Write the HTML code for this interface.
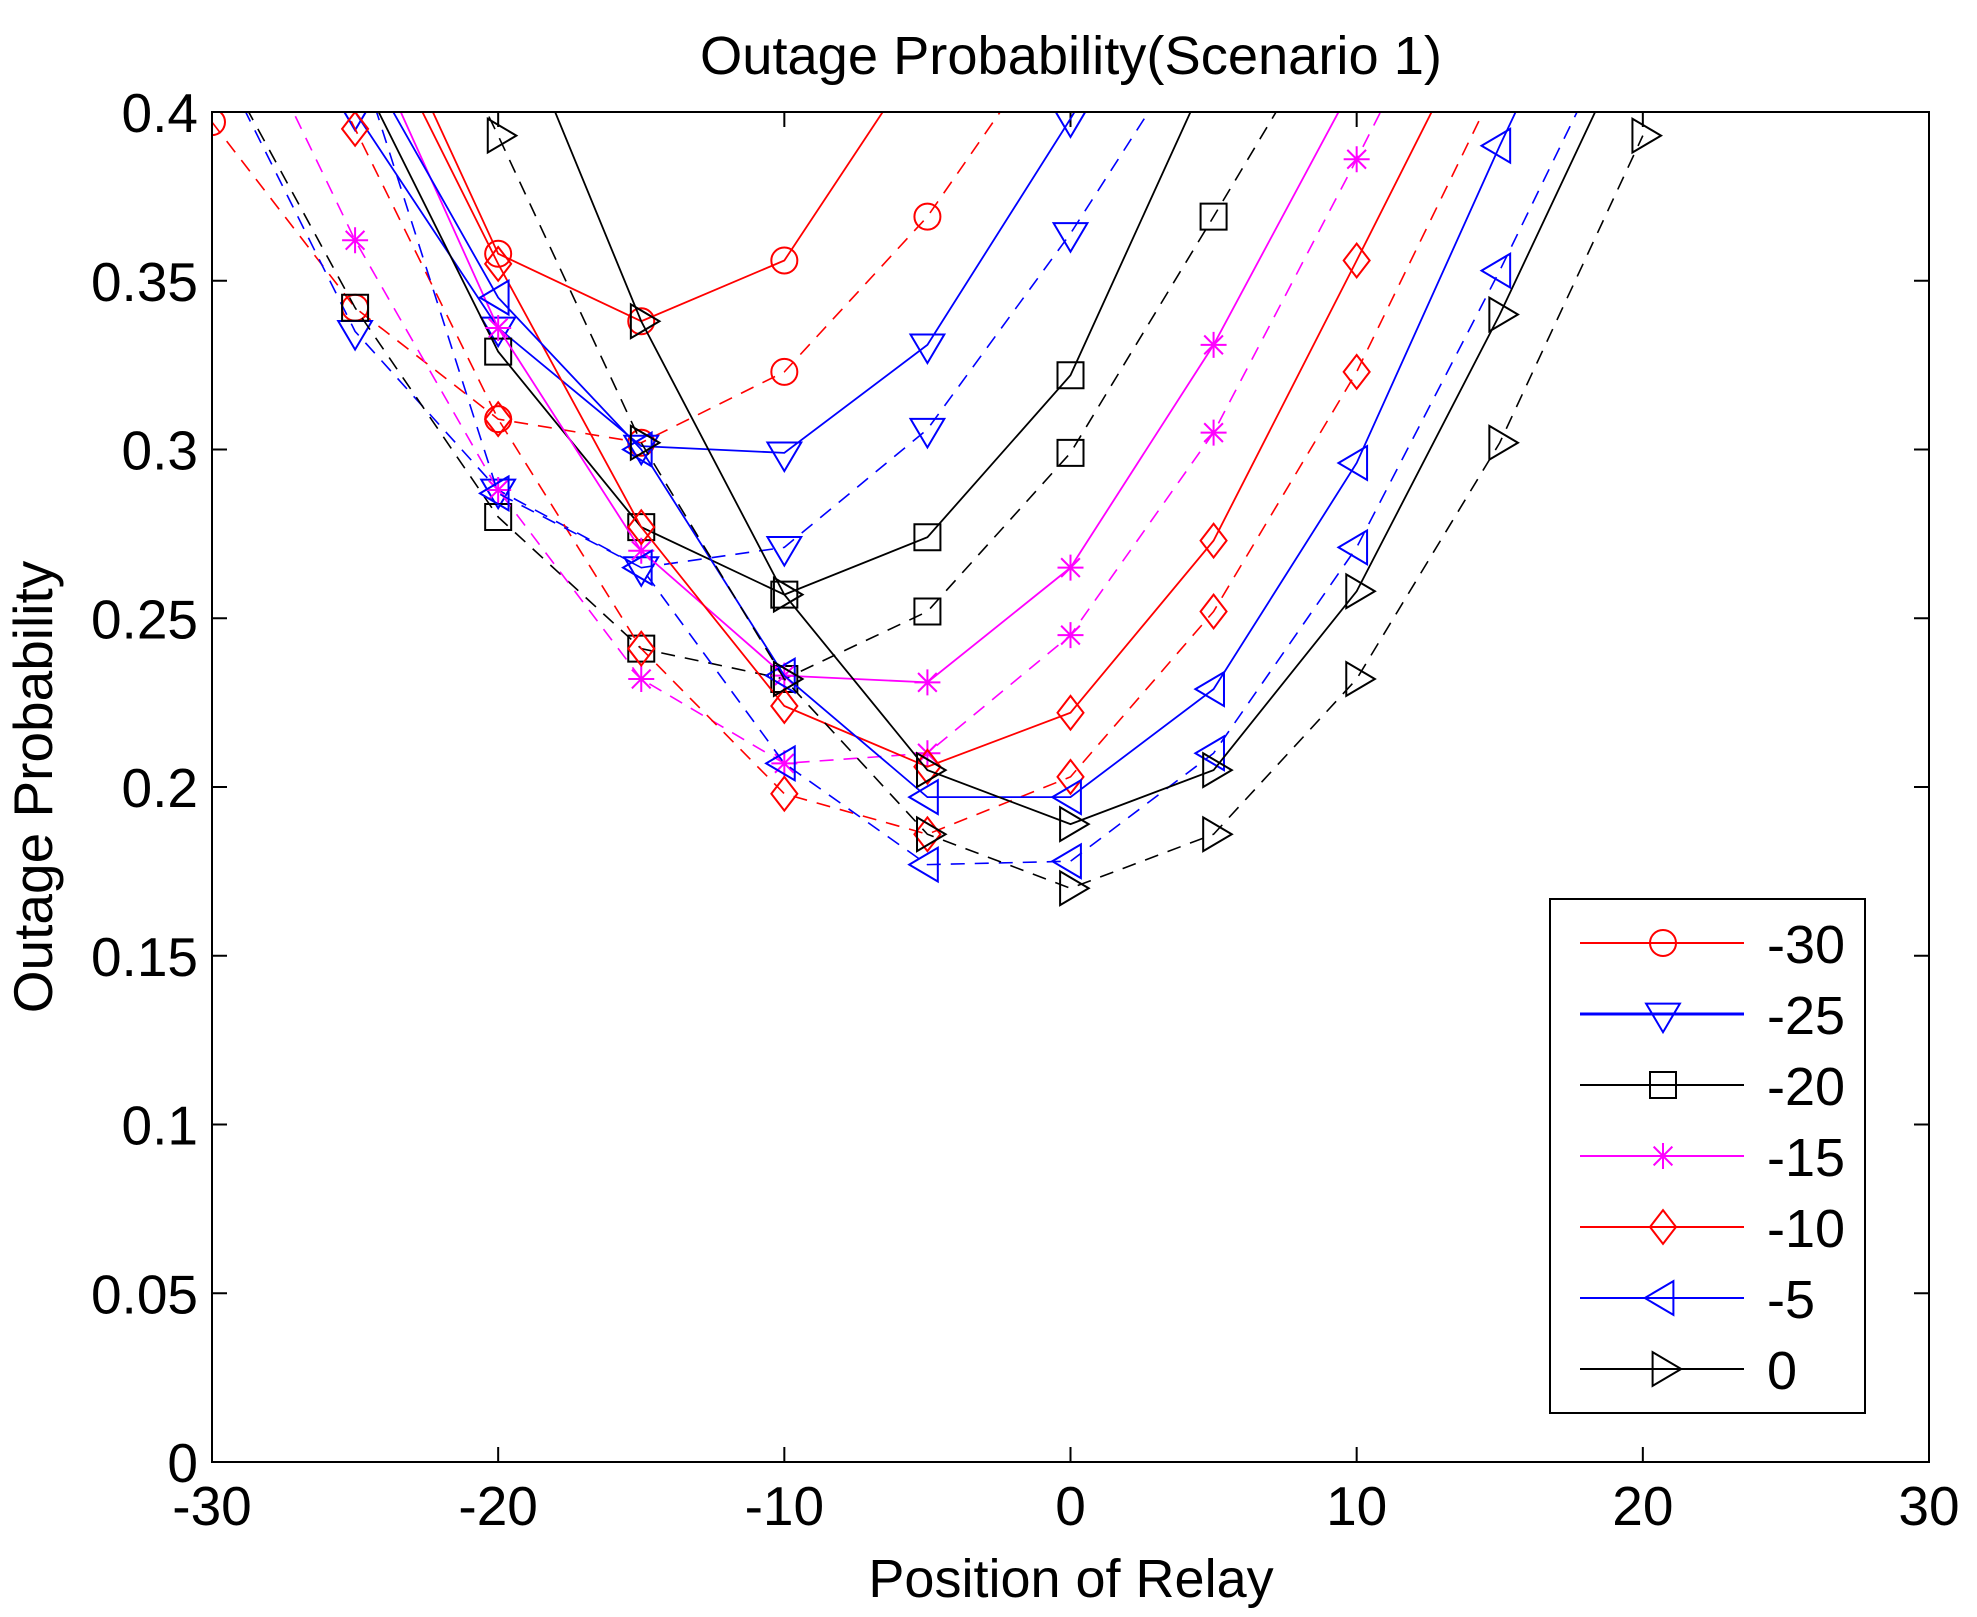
<!DOCTYPE html>
<html><head><meta charset="utf-8"><style>
html,body{margin:0;padding:0;background:#fff;}
svg{display:block;font-family:"Liberation Sans",Arial,sans-serif;}
</style></head><body>
<svg id="chart" width="1977" height="1617" viewBox="0 0 1977 1617">
<defs><clipPath id="pc"><rect x="212" y="112" width="1717" height="1350"/></clipPath></defs>
<rect x="0" y="0" width="1977" height="1617" fill="#fff"/>
<text x="1071" y="74" font-size="54" text-anchor="middle" textLength="742" lengthAdjust="spacingAndGlyphs">Outage Probability(Scenario 1)</text>
<text x="0" y="0" font-size="55" text-anchor="middle" transform="translate(52,787) rotate(-90)">Outage Probability</text>
<text x="1071" y="1597" font-size="54" text-anchor="middle">Position of Relay</text>
<g id="axes"></g>
<g id="series" clip-path="url(#pc)"></g>
<rect x="212" y="112" width="1717" height="1350" fill="none" stroke="#000" stroke-width="2"/>
<g id="legend"></g>
</svg>
<script>
const xTicks=[-30,-20,-10,0,10,20,30];
const yTicks=[0,0.05,0.1,0.15,0.2,0.25,0.3,0.35,0.4];
const yTickLabels=["0","0.05","0.1","0.15","0.2","0.25","0.3","0.35","0.4"];
const positions=[-30,-25,-20,-15,-10,-5,0,5,10,15,20];
const legendLabels=["-30","-25","-20","-15","-10","-5","0"];
const colors=["#ff0000","#0000ff","#000000","#ff00ff","#ff0000","#0000ff","#000000"];
const markers=["circle","tridown","square","star","diamond","trileft","triright"];
const solid30=[null,0.45,0.358,0.338,0.356,0.42,null,null,null,null,null];
const dash30=[0.397,0.342,0.309,0.302,0.323,0.369,0.43,null,null,null,null];
const solid25=[0.47,0.40,0.336,0.301,0.299,0.331,0.398,0.47,null,null,null];
const dash25=[0.42,0.335,0.288,0.265,0.271,0.306,0.364,0.43,null,null,null];
const solid20=[0.5,0.414,0.329,0.277,0.257,0.274,0.322,0.415,0.49,null,null];
const dash20=[0.42,0.342,0.28,0.241,0.232,0.252,0.299,0.369,0.44,null,null];
const solid15=[0.5,0.43,0.336,0.27,0.233,0.231,0.265,0.331,0.41,null,null];
const dash15=[0.45,0.362,0.288,0.232,0.207,0.21,0.245,0.305,0.386,0.47,null];
const solid10=[0.52,0.44,0.355,0.277,0.224,0.206,0.222,0.273,0.356,0.44,null];
const dash10=[0.48,0.395,0.309,0.241,0.198,0.186,0.203,0.252,0.323,0.41,null];
const solid5=[0.5,0.42,0.345,0.30,0.233,0.197,0.197,0.229,0.296,0.39,0.48];
const dash5=[0.52,0.42,0.287,0.265,0.207,0.177,0.178,0.21,0.271,0.353,0.44];
const solid0=[null,null,0.441,0.338,0.257,0.205,0.189,0.205,0.258,0.34,0.43];
const dash0=[0.58,0.48,0.393,0.302,0.232,0.186,0.17,0.186,0.232,0.302,0.393];
const solidSeries=[solid30,solid25,solid20,solid15,solid10,solid5,solid0];
const dashSeries=[dash30,dash25,dash20,dash15,dash10,dash5,dash0];

const NS="http://www.w3.org/2000/svg";
const L=212,R=1929,T=112,B=1462;
const xs=v=>L+(v+30)/60*(R-L);
const ys=v=>B-v/0.4*(B-T);
function mk(tag,attrs,parent){const e=document.createElementNS(NS,tag);for(const k in attrs)e.setAttribute(k,attrs[k]);parent.appendChild(e);return e;}
const axes=document.getElementById('axes');
xTicks.forEach((t,i)=>{
  const x=xs(t);
  const a=mk('path',{d:`M${x},${B}V${B-15}M${x},${T}V${T+15}`,stroke:'#000','stroke-width':2},axes);
  
  
  const tx=mk('text',{x:x,y:B+63,'font-size':55,'text-anchor':'middle'},axes);
  tx.textContent=String(t);
  
  
});
yTicks.forEach((t,i)=>{
  const y=ys(t);
  const a=mk('path',{d:`M${L},${y}H${L+15}M${R},${y}H${R-15}`,stroke:'#000','stroke-width':2},axes);
  
  
  const tx=mk('text',{x:L-14,y:y+20,'font-size':55,'text-anchor':'end'},axes);
  tx.textContent=yTickLabels[i];
  
  
});
function marker(type,x,y,c,parent){
  const r=13;let d;
  if(type==='circle'){return mk('circle',{cx:x,cy:y,r:r,fill:'none',stroke:c,'stroke-width':2},parent);}
  if(type==='tridown')d=`M${x-r*1.3},${y-r*0.8}H${x+r*1.3}L${x},${y+r*1.4}Z`;
  if(type==='square')d=`M${x-r},${y-r}h${2*r}v${2*r}h${-2*r}Z`;
  if(type==='diamond')d=`M${x},${y-r*1.3}L${x+r},${y}L${x},${y+r*1.3}L${x-r},${y}Z`;
  if(type==='trileft')d=`M${x+r*0.8},${y-r*1.3}V${y+r*1.3}L${x-r*1.4},${y}Z`;
  if(type==='triright')d=`M${x-r*0.8},${y-r*1.3}V${y+r*1.3}L${x+r*1.4},${y}Z`;
  if(type==='star'){const s=r,k=r*0.72;d=`M${x-s},${y}H${x+s}M${x},${y-s}V${y+s}M${x-k},${y-k}L${x+k},${y+k}M${x-k},${y+k}L${x+k},${y-k}`;}
  return mk('path',{d:d,fill:'none',stroke:c,'stroke-width':2},parent);
}
const sg=document.getElementById('series');
function drawSeries(vals,i,dashed){
  const g=mk('g',{},sg);
  
  
  let d='';let started=false;
  vals.forEach((v,j)=>{if(v===null){started=false;return;}d+=(started?'L':'M')+xs(positions[j])+','+ys(v);started=true;});
  const p=mk('path',{d:d,fill:'none',stroke:colors[i],'stroke-width':dashed?1.6:1.8},g);
  if(dashed)p.setAttribute('stroke-dasharray','14,10');
  
  
  vals.forEach((v,j)=>{if(v===null||v>0.405)return;
    const m=marker(markers[i],xs(positions[j]),ys(v),colors[i],g);
    
    
  });
}
for(let i=0;i<7;i++){drawSeries(dashSeries[i],i,true);drawSeries(solidSeries[i],i,false);}
const lg=document.getElementById('legend');
const box=mk('rect',{x:1550,y:899,width:315,height:514,fill:'#fff',stroke:'#000','stroke-width':2},lg);


legendLabels.forEach((lab,i)=>{
  const y=943+i*71;
  const g=mk('g',{},lg);
  
  
  mk('line',{x1:1580,x2:1744,y1:y,y2:y,stroke:colors[i],'stroke-width':i===1?3:2},g);
  marker(markers[i],1663,y,colors[i],g);
  const t=mk('text',{x:1767,y:y+20,'font-size':54},g);
  t.textContent=lab;
});
</script>
</body></html>
